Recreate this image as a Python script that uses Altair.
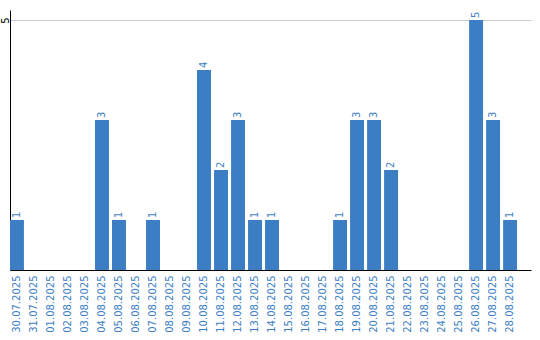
import altair as alt
import pandas as pd

dates = ["30.07.2025", "31.07.2025", "01.08.2025", "02.08.2025", "03.08.2025",
         "04.08.2025", "05.08.2025", "06.08.2025", "07.08.2025", "08.08.2025",
         "09.08.2025", "10.08.2025", "11.08.2025", "12.08.2025", "13.08.2025",
         "14.08.2025", "15.08.2025", "16.08.2025", "17.08.2025", "18.08.2025",
         "19.08.2025", "20.08.2025", "21.08.2025", "22.08.2025", "23.08.2025",
         "24.08.2025", "25.08.2025", "26.08.2025", "27.08.2025", "28.08.2025"]
values = [1, 0, 0, 0, 0, 3, 1, 0, 1, 0,
          0, 4, 2, 3, 1, 1, 0, 0, 0, 1,
          3, 3, 2, 0, 0, 0, 0, 5, 3, 1]

df = pd.DataFrame({"date": dates, "v": values})

BLUE = "#3b7ec3"
FONT = "DejaVu Sans"

x = alt.X("date:N", sort=dates, title=None,
          scale=alt.Scale(paddingInner=0.18, paddingOuter=0.41, align=0),
          axis=alt.Axis(labelAngle=270, labelColor=BLUE, labelFont=FONT,
                        labelFontSize=10, ticks=False, labelPadding=5,
                        domainColor="black", domainWidth=1, grid=False))
y = alt.Y("v:Q", title=None,
          scale=alt.Scale(domain=[0, 5.2], nice=False, zero=True),
          axis=alt.Axis(values=[5], labelAngle=270, labelAlign="center",
                        labelBaseline="middle", labelFont=FONT, labelFontSize=10,
                        labelColor="black", ticks=False, labelPadding=5,
                        domainColor="black", gridColor="#cccccc", grid=True))

bars = alt.Chart(df).mark_bar(color=BLUE).encode(x=x, y=y)

labels = alt.Chart(df).transform_filter("datum.v > 0").mark_text(
    angle=270, align="left", baseline="middle", dx=2, dy=0,
    color=BLUE, font=FONT, fontSize=10
).encode(x=alt.X("date:N", sort=dates), y="v:Q", text="v:Q")

chart = (bars + labels).properties(
    width=521, height=260,
    background="white",
    autosize=alt.AutoSizeParams(type="none"),
    padding={"left": 10, "top": 10, "right": 9, "bottom": 70},
).configure_view(stroke=None, strokeWidth=0)

chart.save("out.html", embed_options={"renderer": "svg", "actions": False})
